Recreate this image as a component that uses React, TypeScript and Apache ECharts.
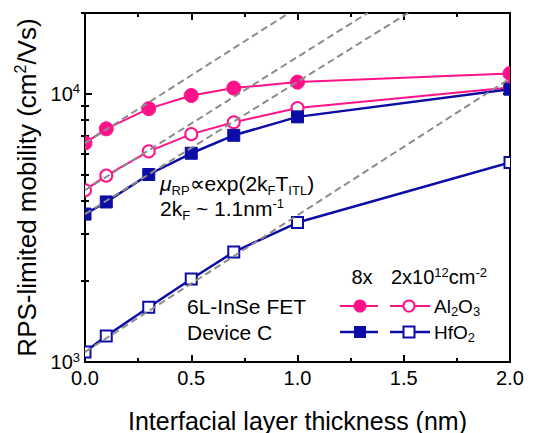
import React, { useEffect, useRef } from "react";
import * as echarts from "echarts";

const FONT = "'Liberation Sans', Arial, Helvetica, sans-serif";
const PINK = "#ff1289";
const BLUE = "#0c0ca6";
const GRAY = "#8c8c8c";

const thickness = [0, 0.1, 0.3, 0.5, 0.7, 1.0, 2.0];
const al2o3High = [6550, 7400, 8800, 9850, 10500, 11050, 11900]; // 8x
const al2o3Low = [4370, 4950, 6100, 7070, 7830, 8850, 10550]; // 2x10^12
const hfo2High = [3560, 3950, 5000, 6000, 7000, 8200, 10400]; // 8x
const hfo2Low = [1090, 1250, 1600, 2040, 2570, 3310, 5540]; // 2x10^12

// dashed exponential guide lines (end points)
const fitA = [[0, 6550], [0.96, 20000]];
const fitB = [[0, 4370], [1.33, 20000]];
const fitC = [[0, 3560], [1.52, 20000]];
const fitD = [[0, 1090], [2.0, 11400]];

const xTicks = [0, 0.5, 1.0, 1.5, 2.0];
const yMajor = [1000, 10000];
const yMinor = [2000, 3000, 4000, 5000, 6000, 7000, 8000, 9000, 20000];

function pairs(ys: number[]) {
  return thickness.map((t, i) => [t, ys[i]]);
}

function lineSeries(ys: number[], color: string, width: number) {
  return {
    type: "line",
    data: pairs(ys),
    showSymbol: false,
    symbol: "none",
    lineStyle: { color, width },
    z: 2,
    clip: true,
    silent: true,
  };
}

function markerSeries(ys: number[], shape: "circle" | "square", filled: boolean, color: string) {
  return {
    type: "custom",
    data: pairs(ys),
    clip: true,
    z: 3,
    silent: true,
    encode: { x: 0, y: 1 },
    renderItem: (params: any, api: any) => {
      const p = api.coord([api.value(0), api.value(1)]);
      const cs = params.coordSys;
      const clipPath = { type: "rect", shape: { x: cs.x, y: cs.y, width: cs.width, height: cs.height } };
      const style = filled
        ? { fill: color, stroke: color, lineWidth: 1 }
        : { fill: "#fff", stroke: color, lineWidth: 2 };
      let el: any;
      if (shape === "circle") {
        el = { type: "circle", shape: { cx: p[0], cy: p[1], r: filled ? 7 : 6 }, style };
      } else {
        const s = filled ? 12 : 11;
        el = { type: "rect", shape: { x: p[0] - s / 2, y: p[1] - s / 2, width: s, height: s }, style };
      }
      return { type: "group", clipPath, children: [el] };
    },
  };
}

function fitSeries(d: number[][]) {
  return {
    type: "line",
    data: d,
    showSymbol: false,
    symbol: "none",
    lineStyle: { color: GRAY, width: 2, type: [7, 4] },
    z: 4,
    clip: true,
    silent: true,
  };
}

export default function App() {
  const ref = useRef<HTMLDivElement>(null);
  useEffect(() => {
    if (!ref.current) return;
    const chart = echarts.init(ref.current, undefined, { renderer: "svg" });
    const axisLine = { show: true, onZero: false, lineStyle: { color: "#000", width: 2 } };
    const xCommon = {
      type: "value",
      min: 0,
      max: 2,
      interval: 0.5,
      axisLine,
      axisTick: { show: true, inside: true, length: 7, lineStyle: { color: "#000", width: 2 } },
      minorTick: { show: true, splitNumber: 2, length: 4, lineStyle: { color: "#000", width: 2 } },
      splitLine: { show: false },
      minorSplitLine: { show: false },
    };
    const yCommon = {
      type: "log",
      logBase: 10,
      min: 1000,
      max: 20000,
      splitLine: { show: false },
    };
    const sup = { fontSize: 13, fontFamily: FONT, color: "#000", padding: [0, 0, 10, 0] };
    const sub = { fontSize: 13, fontFamily: FONT, color: "#000", padding: [14, 0, 0, 0] };
    const norm = (fs: number) => ({ fontSize: fs, fontFamily: FONT, color: "#000" });

    const option: any = {
      animation: false,
      grid: { left: 85, right: 26, top: 13, bottom: 71, containLabel: false, outerBoundsMode: "none" },
      xAxis: [
        {
          ...xCommon,
          position: "bottom",
          axisLabel: {
            show: true,
            fontSize: 20,
            fontFamily: FONT,
            color: "#000",
            margin: 6,
            customValues: xTicks,
            formatter: (v: number) => v.toFixed(1),
          },
          name: "Interfacial layer thickness (nm)",
          nameLocation: "middle",
          nameGap: 46,
          nameTextStyle: { fontSize: 25, fontFamily: FONT, color: "#000" },
        },
        {
          ...xCommon,
          position: "top",
          axisLabel: { show: false },
        },
      ],
      yAxis: [
        {
          ...yCommon,
          position: "left",
          axisLine,
          axisTick: { show: true, inside: true, length: 7, customValues: yMajor, lineStyle: { color: "#000", width: 2 } },
          axisLabel: {
            show: true,
            customValues: yMajor,
            margin: 5,
            formatter: (v: number) => `{b|10}{s|${Math.round(Math.log10(v))}}`,
            rich: { b: norm(20), s: sup },
          },
          name: "{a|RPS-limited mobility (cm}{s|2}{a|/Vs)}",
          nameLocation: "middle",
          nameGap: 40,
          nameRotate: 90,
          nameTextStyle: {
            fontSize: 26,
            fontFamily: FONT,
            color: "#000",
            rich: { a: norm(26), s: { fontSize: 16, fontFamily: FONT, color: "#000", padding: [0, 0, 12, 0] } },
          },
        },
        {
          ...yCommon,
          position: "left",
          axisLine: { show: false },
          axisTick: { show: true, inside: true, length: 4, customValues: yMinor, lineStyle: { color: "#000", width: 2 } },
          axisLabel: { show: false },
        },
        {
          ...yCommon,
          position: "right",
          axisLine,
          axisTick: { show: true, inside: true, length: 7, customValues: yMajor, lineStyle: { color: "#000", width: 2 } },
          axisLabel: { show: false },
        },
        {
          ...yCommon,
          position: "right",
          axisLine: { show: false },
          axisTick: { show: true, inside: true, length: 4, customValues: yMinor, lineStyle: { color: "#000", width: 2 } },
          axisLabel: { show: false },
        },
      ],
      series: [
        lineSeries(al2o3High, PINK, 2),
        lineSeries(al2o3Low, PINK, 2),
        lineSeries(hfo2High, BLUE, 2.5),
        lineSeries(hfo2Low, BLUE, 2.5),
        markerSeries(al2o3High, "circle", true, PINK),
        markerSeries(al2o3Low, "circle", false, PINK),
        markerSeries(hfo2High, "square", true, BLUE),
        markerSeries(hfo2Low, "square", false, BLUE),
        fitSeries(fitA),
        fitSeries(fitB),
        fitSeries(fitC),
        fitSeries(fitD),
      ],
      graphic: [
        {
          type: "text",
          x: 160,
          y: 183,
          z: 10,
          style: {
            text: "{i|μ}{d|RP}{a|∝exp(2k}{d|F}{a|T}{d|ITL}{a|)}",
            rich: {
              i: { ...norm(21), fontStyle: "italic" },
              a: norm(21),
              d: sub,
            },
            verticalAlign: "middle",
            align: "left",
          },
        },
        {
          type: "text",
          x: 160,
          y: 208,
          z: 10,
          style: {
            text: "{a|2k}{d|F}{a| ~ 1.1nm}{u|-1}",
            rich: { a: norm(21), d: sub, u: sup },
            verticalAlign: "middle",
            align: "left",
          },
        },
        {
          type: "text",
          x: 187,
          y: 306,
          z: 10,
          style: { text: "6L-InSe FET", fontSize: 21, fontFamily: FONT, fill: "#000", verticalAlign: "middle", align: "left" },
        },
        {
          type: "text",
          x: 187,
          y: 332,
          z: 10,
          style: { text: "Device C", fontSize: 21, fontFamily: FONT, fill: "#000", verticalAlign: "middle", align: "left" },
        },
        {
          type: "text",
          x: 362,
          y: 277,
          z: 10,
          style: { text: "8x", fontSize: 20, fontFamily: FONT, fill: "#000", verticalAlign: "middle", align: "center" },
        },
        {
          type: "text",
          x: 391,
          y: 277,
          z: 10,
          style: {
            text: "{a|2x10}{u|12}{a|cm}{u|-2}",
            rich: { a: norm(20), u: sup },
            verticalAlign: "middle",
            align: "left",
          },
        },
        { type: "line", z: 10, shape: { x1: 340, y1: 306, x2: 378, y2: 306 }, style: { stroke: PINK, lineWidth: 2 } },
        { type: "circle", z: 11, shape: { cx: 360, cy: 306, r: 6.5 }, style: { fill: PINK } },
        { type: "line", z: 10, shape: { x1: 390, y1: 306, x2: 430, y2: 306 }, style: { stroke: PINK, lineWidth: 2 } },
        { type: "circle", z: 11, shape: { cx: 409, cy: 306, r: 5.5 }, style: { fill: "#fff", stroke: PINK, lineWidth: 2 } },
        {
          type: "text",
          x: 434,
          y: 306,
          z: 10,
          style: {
            text: "{a|Al}{d|2}{a|O}{d|3}",
            rich: { a: norm(19), d: { ...sub, padding: [11, 0, 0, 0] } },
            verticalAlign: "middle",
            align: "left",
          },
        },
        { type: "line", z: 10, shape: { x1: 340, y1: 332, x2: 378, y2: 332 }, style: { stroke: BLUE, lineWidth: 2.5 } },
        { type: "rect", z: 11, shape: { x: 354, y: 326, width: 12, height: 12 }, style: { fill: BLUE } },
        { type: "line", z: 10, shape: { x1: 390, y1: 332, x2: 430, y2: 332 }, style: { stroke: BLUE, lineWidth: 2.5 } },
        { type: "rect", z: 11, shape: { x: 403.5, y: 326.5, width: 11, height: 11 }, style: { fill: "#fff", stroke: BLUE, lineWidth: 2 } },
        {
          type: "text",
          x: 434,
          y: 332,
          z: 10,
          style: {
            text: "{a|HfO}{d|2}",
            rich: { a: norm(19), d: { ...sub, padding: [11, 0, 0, 0] } },
            verticalAlign: "middle",
            align: "left",
          },
        },
      ],
    };
    chart.setOption(option);
    return () => chart.dispose();
  }, []);
  return (
    <div
      ref={ref}
      style={{ position: "fixed", left: 0, top: 0, width: 536, height: 433, background: "#fff" }}
    />
  );
}
